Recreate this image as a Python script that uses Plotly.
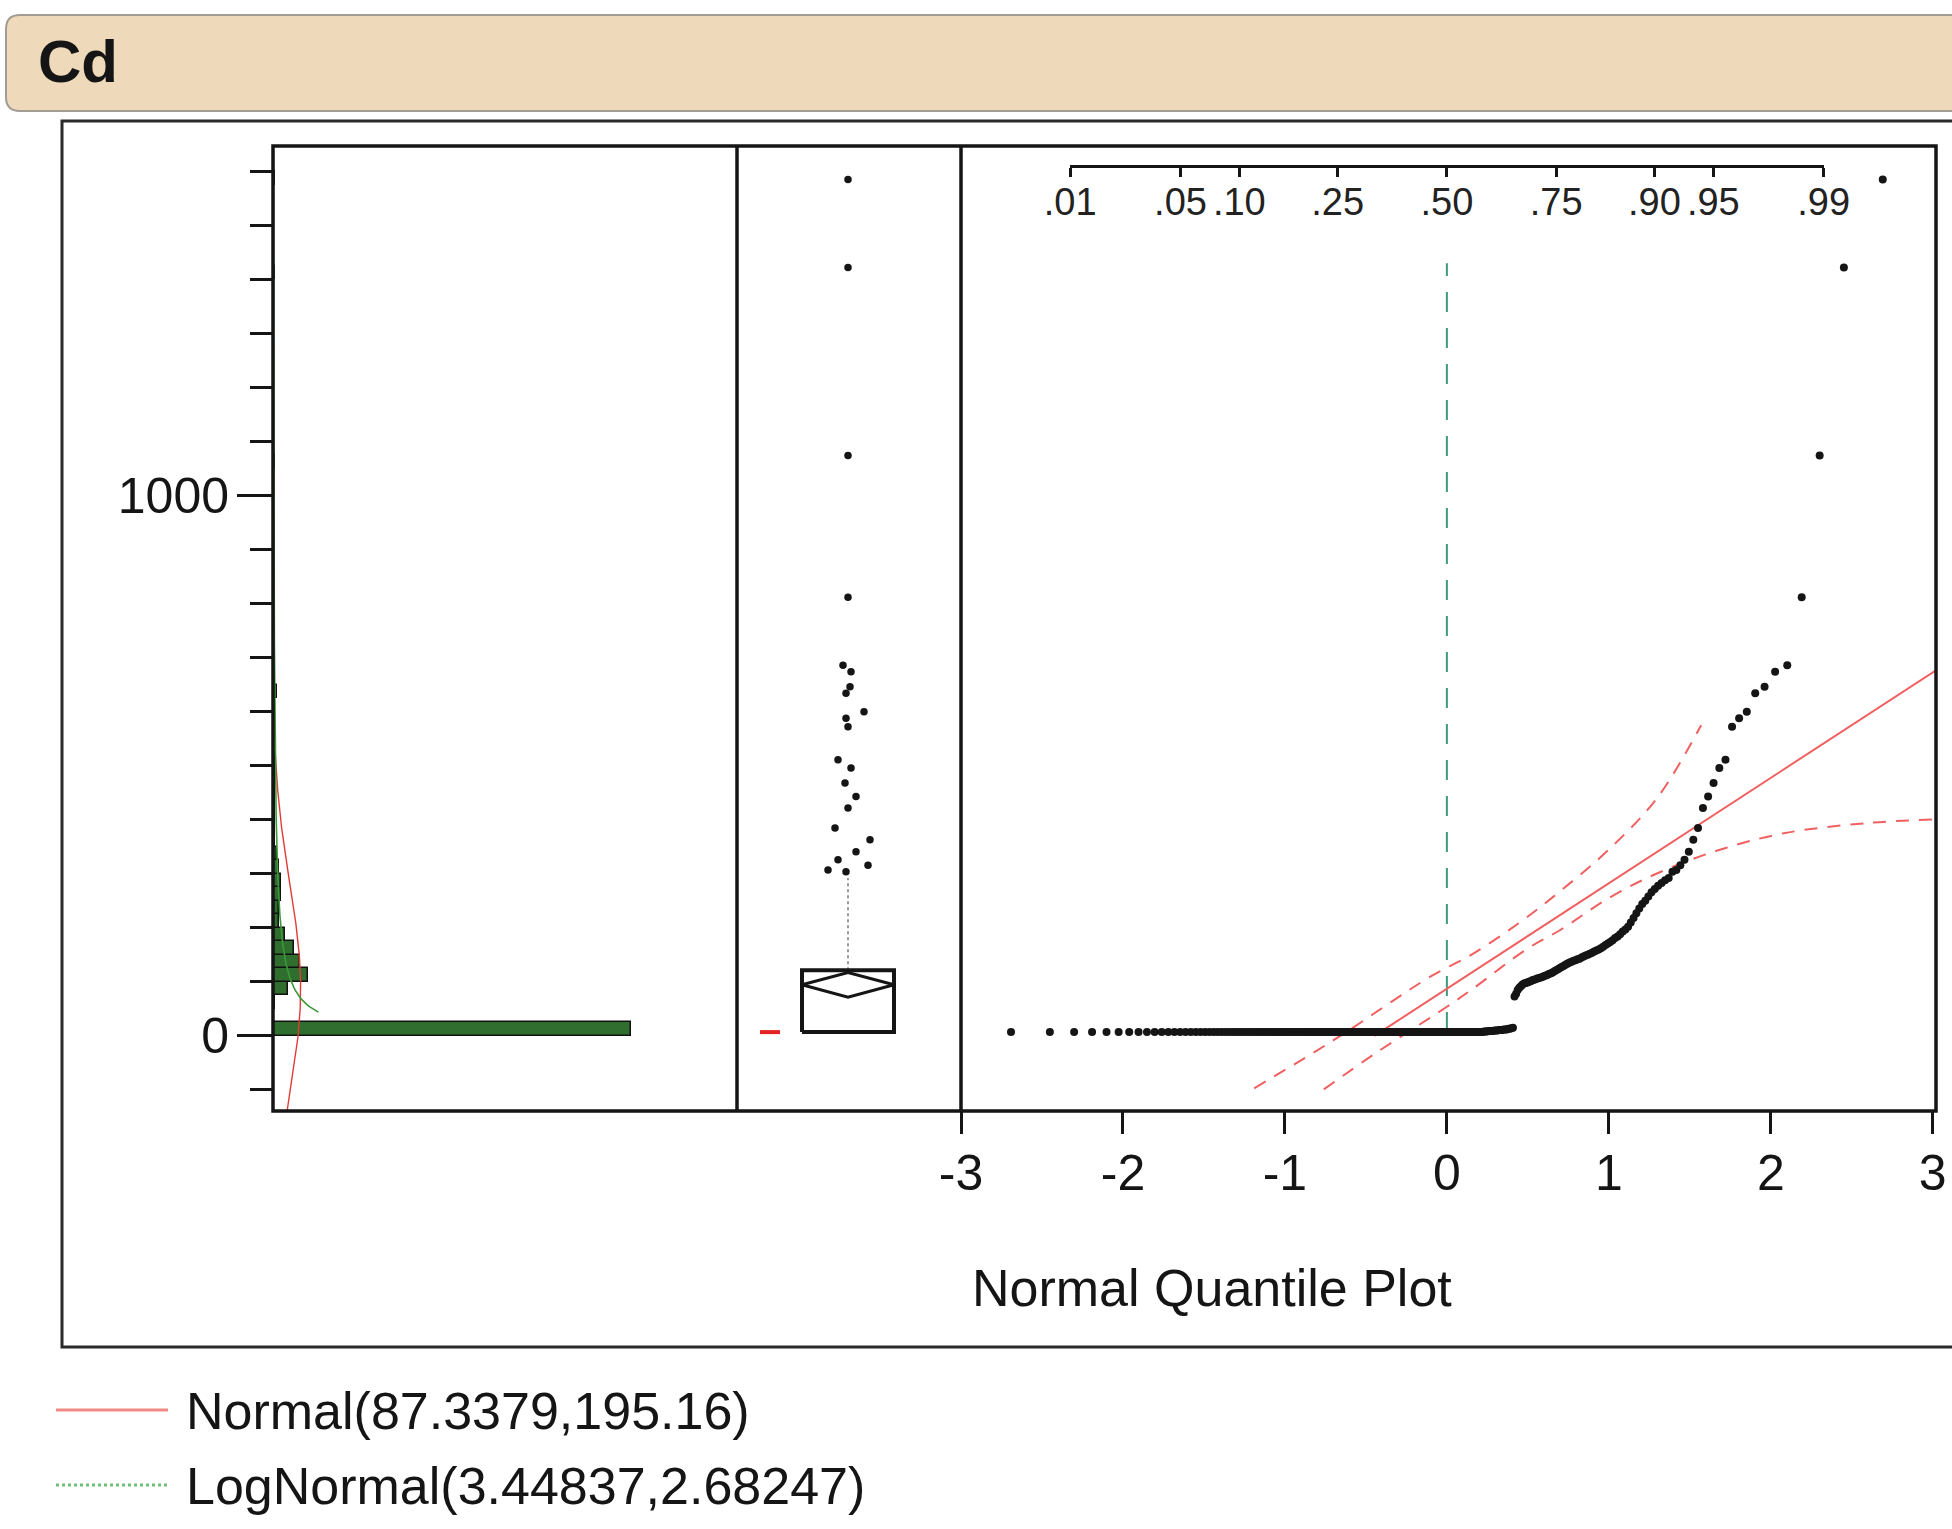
import numpy as np
import plotly.graph_objects as go
from statistics import NormalDist

W, H = 1952, 1529

# ------------------------------------------------------------------ data
# Cd values (sorted), read from the normal quantile plot / outlier box plot
low_value = 7.0          # tied values at the reporting limit
low_count = 165
low_tail = [8, 8, 8, 9, 9, 9, 9, 10, 10, 10, 11, 11, 11, 12, 12, 12, 13, 13, 14, 15]
mid_values = [73, 78, 85, 89, 92, 95, 97, 98, 99, 100,
              101, 103, 104, 105, 106, 107, 108, 109, 111, 112,
              113, 115, 116, 118, 120, 122, 124, 126, 128, 130,
              132, 134, 136, 137, 139, 140, 142, 143, 145, 147,
              149, 150, 152, 154, 156, 158, 160, 162, 165, 168,
              171, 174, 177, 181, 184, 188, 193, 197, 202, 210,
              218, 227, 236, 244, 250, 258, 266, 272, 278, 283,
              288, 292]
outlier_values = [304, 307, 316, 326, 341, 363, 385, 422, 443, 468,
                  496, 511, 572, 588, 600, 634, 646, 674, 686]
extreme_values = [812, 1074, 1422, 1585]

# fitted distributions (as reported)
normal_mu, normal_sigma = 87.3379, 195.16
lognormal_mu, lognormal_sigma = 3.44837, 2.68247
legend_labels = ["Normal(87.3379,195.16)", "LogNormal(3.44837,2.68247)"]

# confidence bands of the normal quantile plot (quantile z, value)
band_upper_z = [-1.19, -0.7, -0.1, 0.15, 0.45, 0.7, 1.0, 1.3, 1.57]
band_upper_v = [-97, -8, 110, 150, 210, 268, 345, 441, 575]
band_lower_z = [-0.76, -0.44, 0.0, 0.15, 0.49, 0.70, 1.01, 1.30, 1.67, 2.08, 2.6, 3.02]
band_lower_v = [-99, -32, 54, 85, 160, 196, 257, 301, 343, 375, 394, 401]

prob_ticks = [0.01, 0.05, 0.10, 0.25, 0.50, 0.75, 0.90, 0.95, 0.99]
prob_labels = [".01", ".05", ".10", ".25", ".50", ".75", ".90", ".95", ".99"]
quant_ticks = [-3, -2, -1, 0, 1, 2, 3]
quant_labels = ["-3", "-2", "-1", "0", "1", "2", "3"]
y_major = [0, 1000]
y_major_labels = ["0", "1000"]
y_minor = [v for v in range(-100, 1700, 100) if v not in (0, 1000)]

hist_bin = 25
title_text = "Cd"
xaxis_title = "Normal Quantile Plot"

# ------------------------------------------------------------------ layout geometry (px)
HX0, HX1 = 273, 737
BX0, BX1 = 737, 961
QX0, QX1 = 961, 1936
PY0, PY1 = 146, 1111
Y_RANGE = [-139, 1647]
Q_RANGE = [-3, 3.02]
HIST_RANGE = [0, 240]
BOX_CENTER_PX = 848
BOX_HALF_PX = 46
MEDIAN_LINE_TOP = 1430

# jitter of outlier points in the box plot (px)
outlier_jitter_px = [-2, -20, 20, -10, 8, 22, -13, 0, 8, -3, 3, -10, 0, -2, 16, -2, 2, 3, -5]
extreme_jitter_px = [0, 0, 0, 0]

def fx(px):
    return px / W

def fy(py):
    return 1 - py / H

FONT = "Liberation Sans, Arial, sans-serif"
INK = "#151515"

# ------------------------------------------------------------------ derived
values = np.sort(np.array([low_value] * low_count + low_tail + mid_values
                          + outlier_values + extreme_values, dtype=float))
n = len(values)
nd = NormalDist()
zq = np.array([nd.inv_cdf(i / (n + 1)) for i in range(1, n + 1)])

q1, med, q3 = np.percentile(values, [25, 50, 75], method="weibull")
iqr = q3 - q1
upper_adj = values[values <= q3 + 1.5 * iqr].max()
mean = values.mean()
sd = values.std(ddof=1)
ci = 1.9686 * sd / np.sqrt(n)
h = int(np.ceil(n / 2))
widths = values[h - 1:] - values[:n - h + 1]
k = int(np.argmin(widths))
sh_lo, sh_hi = values[k], values[k + h - 1]

fig = go.Figure()

# ---------------- histogram panel
fig.add_trace(go.Histogram(
    y=values, orientation="h", xaxis="x", yaxis="y",
    ybins=dict(start=0, end=1700, size=hist_bin),
    marker=dict(color="#2f6e2f", line=dict(color="#111", width=1.5)),
    hoverinfo="skip", showlegend=False))

vgrid = np.linspace(Y_RANGE[0], Y_RANGE[1], 600)
norm_pdf = np.exp(-0.5 * ((vgrid - normal_mu) / normal_sigma) ** 2) / (normal_sigma * np.sqrt(2 * np.pi))
fig.add_trace(go.Scatter(x=n * hist_bin * norm_pdf, y=vgrid, xaxis="x", yaxis="y",
                         mode="lines", line=dict(color="#e23b36", width=1.4),
                         hoverinfo="skip", showlegend=False))
vlog = np.linspace(44, Y_RANGE[1], 600)
logn_pdf = np.exp(-0.5 * ((np.log(vlog) - lognormal_mu) / lognormal_sigma) ** 2) / (
    vlog * lognormal_sigma * np.sqrt(2 * np.pi))
fig.add_trace(go.Scatter(x=n * hist_bin * logn_pdf, y=vlog, xaxis="x", yaxis="y",
                         mode="lines", line=dict(color="#3a9a3a", width=1.6),
                         hoverinfo="skip", showlegend=False))

# ---------------- box plot panel
bc = (BOX_CENTER_PX - BX0) / (BX1 - BX0)
bhw = BOX_HALF_PX / (BX1 - BX0)
fig.add_trace(go.Scatter(x=[bc, bc], y=[q3, upper_adj], xaxis="x2", yaxis="y2", mode="lines",
                         line=dict(color="#9a9a9a", width=2, dash="dot"),
                         hoverinfo="skip", showlegend=False))
fig.add_trace(go.Scatter(x=[bc - bhw, bc + bhw, bc + bhw, bc - bhw, bc - bhw],
                         y=[q1, q1, q3, q3, q1], xaxis="x2", yaxis="y2", mode="lines",
                         line=dict(color=INK, width=4), hoverinfo="skip", showlegend=False))
fig.add_trace(go.Scatter(x=[bc - bhw, bc + bhw], y=[med, med], xaxis="x2", yaxis="y2", mode="lines",
                         line=dict(color=INK, width=4), hoverinfo="skip", showlegend=False))
fig.add_trace(go.Scatter(x=[bc - bhw, bc, bc + bhw, bc, bc - bhw],
                         y=[mean, mean + ci, mean, mean - ci, mean], xaxis="x2", yaxis="y2",
                         mode="lines", line=dict(color=INK, width=3),
                         hoverinfo="skip", showlegend=False))
out_v = outlier_values + extreme_values
out_x = [bc + j / (BX1 - BX0) for j in outlier_jitter_px + extreme_jitter_px]
fig.add_trace(go.Scatter(x=out_x, y=out_v, xaxis="x2", yaxis="y2", mode="markers",
                         marker=dict(color=INK, size=7.5), hoverinfo="skip", showlegend=False))
shx0, shx1 = (760 - BX0) / (BX1 - BX0), (780 - BX0) / (BX1 - BX0)
fig.add_trace(go.Scatter(x=[shx0, shx1], y=[sh_lo, sh_hi], xaxis="x2", yaxis="y2", mode="lines",
                         line=dict(color="#e52222", width=4), hoverinfo="skip", showlegend=False))

# ---------------- normal quantile plot panel
fig.add_trace(go.Scatter(x=[0, 0], y=[med, MEDIAN_LINE_TOP], xaxis="x3", yaxis="y3", mode="lines",
                         line=dict(color="#3f9a7c", width=2, dash="20px,16px"),
                         hoverinfo="skip", showlegend=False))
zl = np.array([(0 - normal_mu) / normal_sigma, Q_RANGE[1]])
fig.add_trace(go.Scatter(x=zl, y=normal_mu + normal_sigma * zl, xaxis="x3", yaxis="y3",
                         mode="lines", line=dict(color="#f06060", width=2),
                         hoverinfo="skip", showlegend=False))
for bz, bv in ((band_upper_z, band_upper_v), (band_lower_z, band_lower_v)):
    fig.add_trace(go.Scatter(x=bz, y=bv, xaxis="x3", yaxis="y3", mode="lines",
                             line=dict(color="#f06060", width=2, dash="13px,10px", shape="spline"),
                             hoverinfo="skip", showlegend=False))
fig.add_trace(go.Scatter(x=zq, y=values, xaxis="x3", yaxis="y3", mode="markers",
                         marker=dict(color=INK, size=8), hoverinfo="skip", showlegend=False))

# probability axis helper trace
zp = [nd.inv_cdf(p) for p in prob_ticks]
fig.add_trace(go.Scatter(x=[zp[0], zp[-1]], y=[0, 0], xaxis="x4", yaxis="y3", mode="markers",
                         marker=dict(opacity=0), hoverinfo="skip", showlegend=False))

# ------------------------------------------------------------------ axes
def zpx(z):
    return QX0 + (z - Q_RANGE[0]) / (Q_RANGE[1] - Q_RANGE[0]) * (QX1 - QX0)

ydom = [fy(PY1), fy(PY0)]
common = dict(showgrid=False, zeroline=False)
fig.update_layout(
    width=W, height=H, margin=dict(l=0, r=0, t=0, b=0, pad=0, autoexpand=False),
    paper_bgcolor="white", plot_bgcolor="rgba(0,0,0,0)", bargap=0,
    font=dict(family=FONT, color=INK),
    xaxis=dict(domain=[fx(HX0), fx(HX1)], range=HIST_RANGE, visible=False, anchor="y", **common),
    yaxis=dict(domain=ydom, range=Y_RANGE, anchor="x", side="left", showline=False,
               tickmode="array", tickvals=y_major, ticktext=y_major_labels,
               ticks="outside", ticklen=35, tickwidth=3, tickcolor=INK,
               tickfont=dict(size=50, family=FONT, color=INK), ticklabelstandoff=-2,
               automargin=False,
               minor=dict(tickvals=y_minor, ticks="outside", ticklen=22, tickwidth=3,
                          tickcolor=INK, showgrid=False),
               **common),
    xaxis2=dict(domain=[fx(BX0), fx(BX1)], range=[0, 1], visible=False, anchor="y2", **common),
    yaxis2=dict(domain=ydom, range=Y_RANGE, visible=False, anchor="x2", **common),
    xaxis3=dict(domain=[fx(QX0), fx(QX1)], range=Q_RANGE, anchor="y3", showline=False,
                tickmode="array", tickvals=quant_ticks, ticktext=quant_labels,
                ticks="outside", ticklen=22, tickwidth=3, tickcolor=INK, automargin=False,
                tickfont=dict(size=50, family=FONT, color=INK), ticklabelstandoff=-4,
                tickangle=0, **common),
    yaxis3=dict(domain=ydom, range=Y_RANGE, visible=False, anchor="x3", **common),
    xaxis4=dict(domain=[fx(zpx(zp[0])), fx(zpx(zp[-1]))], range=[zp[0], zp[-1]],
                anchor="free", position=fy(165.5), side="bottom", automargin=False,
                showline=True, linewidth=3, linecolor=INK,
                tickmode="array", tickvals=zp, ticktext=prob_labels, tickangle=0,
                ticks="outside", ticklen=9, tickwidth=3, tickcolor=INK,
                tickfont=dict(size=38, family=FONT, color="#222"), ticklabelstandoff=-7,
                **common),
)

# ------------------------------------------------------------------ shapes / text
def path_round_rect(x0, y0, x1, y1, r):
    return (f"M {fx(x0 + r)},{fy(y0)} L {fx(x1)},{fy(y0)} L {fx(x1)},{fy(y1)} "
            f"L {fx(x0 + r)},{fy(y1)} Q {fx(x0)},{fy(y1)} {fx(x0)},{fy(y1 - r)} "
            f"L {fx(x0)},{fy(y0 + r)} Q {fx(x0)},{fy(y0)} {fx(x0 + r)},{fy(y0)} Z")

shapes = [
    dict(type="path", xref="paper", yref="paper", path=path_round_rect(6, 15, 2000, 111, 14),
         fillcolor="#efd9bb", line=dict(color="#a39c95", width=2), layer="below"),
    dict(type="rect", xref="paper", yref="paper", x0=fx(62), y0=fy(121), x1=fx(2000), y1=fy(1347),
         line=dict(color="#2a2a2a", width=3), layer="below"),
    dict(type="rect", xref="paper", yref="paper", x0=fx(HX0), y0=fy(PY0), x1=fx(QX1), y1=fy(PY1),
         line=dict(color=INK, width=3.5)),
    dict(type="line", xref="paper", yref="paper", x0=fx(BX0), x1=fx(BX0), y0=fy(PY0), y1=fy(PY1),
         line=dict(color=INK, width=3.5)),
    dict(type="line", xref="paper", yref="paper", x0=fx(BX1), x1=fx(BX1), y0=fy(PY0), y1=fy(PY1),
         line=dict(color=INK, width=3.5)),
    dict(type="line", xref="paper", yref="paper", x0=fx(56), x1=fx(168), y0=fy(1410), y1=fy(1410),
         line=dict(color="#f08a86", width=3)),
    dict(type="line", xref="paper", yref="paper", x0=fx(56), x1=fx(168), y0=fy(1485), y1=fy(1485),
         line=dict(color="#6fbf7a", width=3, dash="dot")),
]
fig.update_layout(shapes=shapes)

annotations = [
    dict(text=f"<b>{title_text}</b>", x=fx(36), y=fy(61), xref="paper", yref="paper",
         xanchor="left", yanchor="middle", showarrow=False, font=dict(size=60, family=FONT, color=INK)),
    dict(text=xaxis_title, x=fx(1212), y=fy(1288), xref="paper", yref="paper",
         xanchor="center", yanchor="middle", showarrow=False, font=dict(size=52, family=FONT, color=INK)),
    dict(text=legend_labels[0], x=fx(184), y=fy(1411), xref="paper", yref="paper",
         xanchor="left", yanchor="middle", showarrow=False, font=dict(size=52, family=FONT, color=INK)),
    dict(text=legend_labels[1], x=fx(184), y=fy(1486), xref="paper", yref="paper",
         xanchor="left", yanchor="middle", showarrow=False, font=dict(size=52, family=FONT, color=INK)),
]
fig.update_layout(annotations=annotations)

fig.write_html("out.html")
